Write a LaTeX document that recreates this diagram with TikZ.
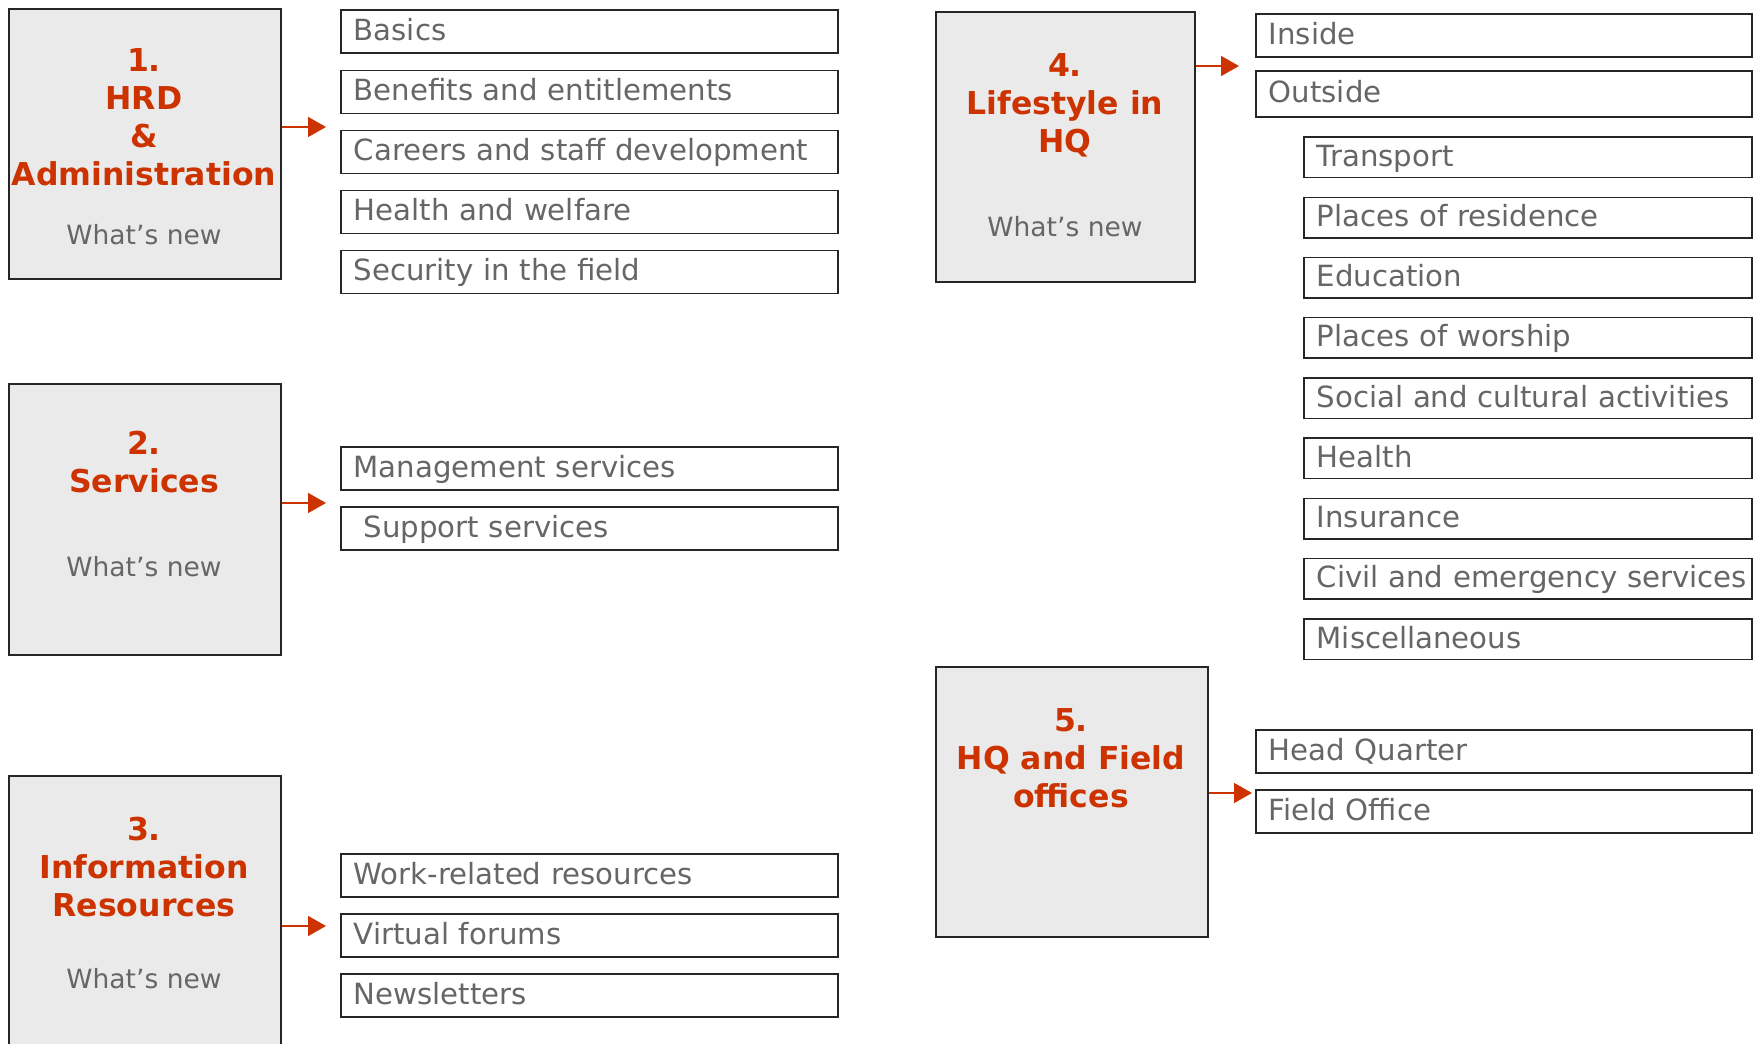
\documentclass[tikz,border=0pt]{standalone}
\usepackage{fontspec}
\setmainfont{DejaVu Sans}
\usetikzlibrary{arrows.meta}
\definecolor{hred}{HTML}{CC3300}
\definecolor{tgray}{HTML}{666666}
\definecolor{bfill}{HTML}{EAEAEA}
\definecolor{bline}{HTML}{262626}
\tikzset{
 bigbox/.style={draw=bline, line width=1.5pt, fill=bfill, rectangle, inner sep=0pt, anchor=north west},
 head/.style={text=hred, font=\fontsize{31.5}{38}\selectfont\bfseries, align=center, inner sep=0pt},
 whatsnew/.style={text=tgray, font=\fontsize{26.5}{32}\selectfont, inner sep=0pt},
 item/.style={draw=bline, line width=1.5pt, fill=white, rectangle, anchor=north west,
   inner xsep=13pt, inner ysep=0pt, text=tgray, font=\fontsize{29.2}{35}\selectfont,
   align=left, text height=24pt, text depth=6pt},
 itemL/.style={item, text width=471pt, minimum height=43pt},
 itemR/.style={item, text width=470pt, minimum height=43pt},
 itemS/.style={item, text width=422pt, minimum height=40.5pt},
 arr/.style={draw=hred, line width=1.6pt, -{Triangle[length=18pt,width=20pt]}},
}
\begin{document}
\begin{tikzpicture}[x=1pt,y=-1pt]
\useasboundingbox (0,0) rectangle (1762,1044);
% big boxes
\node[bigbox, minimum width=272pt, minimum height=270pt] (b1) at (8,8) {};
\node[bigbox, minimum width=272pt, minimum height=271pt] (b2) at (8,383) {};
\node[bigbox, minimum width=272pt, minimum height=290pt] (b3) at (8,775) {};
\node[bigbox, minimum width=259pt, minimum height=270pt] (b4) at (935,11) {};
\node[bigbox, minimum width=272pt, minimum height=270pt] (b5) at (935,666) {};
% headings
\node[head] (h1) at (144,117.5) {1.\\HRD\\\&\\Administration};
\node[whatsnew] (w1) at (144,235) {What’s new};
\node[head] (h2) at (144,462) {2.\\Services};
\node[whatsnew] (w2) at (144,567) {What’s new};
\node[head] (h3) at (144,867) {3.\\Information\\Resources};
\node[whatsnew] (w3) at (144,979) {What’s new};
\node[head] (h4) at (1065,105.5) {4.\\Lifestyle in\\HQ};
\node[whatsnew] (w4) at (1065,227) {What’s new};
\node[head] (h5) at (1071,758) {5.\\HQ and Field\\offices};
% left items
\node[itemL] (i11) at (340,9) {Basics};
\node[itemL] (i12) at (340,69.5) {Benefits and entitlements};
\node[itemL] (i13) at (340,129.5) {Careers and staff development};
\node[itemL] (i14) at (340,189.5) {Health and welfare};
\node[itemL] (i15) at (340,249.5) {Security in the field};
\node[itemL] (i21) at (340,446) {Management services};
\node[itemL] (i22) at (340,506) {\hspace*{10pt}Support services};
\node[itemL] (i31) at (340,853) {Work-related resources};
\node[itemL] (i32) at (340,913) {Virtual forums};
\node[itemL] (i33) at (340,973) {Newsletters};
% right items
\node[itemR] (i41) at (1255,13) {Inside};
\node[itemR, minimum height=46pt] (i42) at (1255,70) {Outside};
\node[itemS] (s1) at (1303,136) {Transport};
\node[itemS] (s2) at (1303,196.5) {Places of residence};
\node[itemS] (s3) at (1303,256.5) {Education};
\node[itemS] (s4) at (1303,316.5) {Places of worship};
\node[itemS] (s5) at (1303,377) {Social and cultural activities};
\node[itemS] (s6) at (1303,437) {Health};
\node[itemS] (s7) at (1303,497.5) {Insurance};
\node[itemS] (s8) at (1303,557.5) {\mbox{Civil and emergency services}};
\node[itemS] (s9) at (1303,618) {Miscellaneous};
\node[itemR] (i51) at (1255,729) {Head Quarter};
\node[itemR] (i52) at (1255,789) {Field Office};
% arrows
\coordinate (a1) at (326,127);
\coordinate (a2) at (326,503);
\coordinate (a3) at (326,926);
\coordinate (a4) at (1239,66);
\coordinate (a5) at (1252,793);
\draw[arr] (b1.east |- a1) -- (a1);
\draw[arr] (b2.east |- a2) -- (a2);
\draw[arr] (b3.east |- a3) -- (a3);
\draw[arr] (b4.east |- a4) -- (a4);
\draw[arr] (b5.east |- a5) -- (a5);
\end{tikzpicture}
\end{document}
